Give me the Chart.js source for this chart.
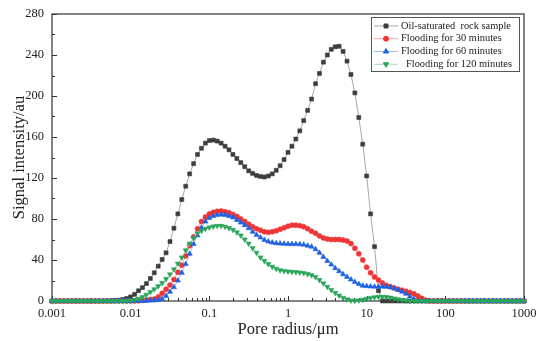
<!DOCTYPE html>
<html><head><meta charset="utf-8">
<script src="https://cdn.jsdelivr.net/npm/chart.js@4"></script>
<style>html,body{margin:0;padding:0;background:#fff;overflow:hidden}</style>
</head><body>
<canvas id="c" width="538" height="341"></canvas>
<script>
// Pore radius grid (µm)
const poreRadius = [
0.001,0.001122,0.001259,0.001413,0.001585,0.001778,0.001995,0.002239,0.002512,0.002818,0.003162,0.003548,0.003981,0.004467,0.005012,0.005623,0.006310,0.007079,0.007943,0.008913,
0.01,0.01122,0.01259,0.01413,0.01585,0.01778,0.01995,0.02239,0.02512,0.02818,0.03162,0.03548,0.03981,0.04467,0.05012,0.05623,0.06310,0.07079,0.07943,0.08913,
0.1,0.1122,0.1259,0.1413,0.1585,0.1778,0.1995,0.2239,0.2512,0.2818,0.3162,0.3548,0.3981,0.4467,0.5012,0.5623,0.6310,0.7079,0.7943,0.8913,
1,1.122,1.259,1.413,1.585,1.778,1.995,2.239,2.512,2.818,3.162,3.548,3.981,4.467,5.012,5.623,6.310,7.079,7.943,8.913,
10,11.22,12.59,14.13,15.85,17.78,19.95,22.39,25.12,28.18,31.62,35.48,39.81,44.67,50.12,56.23,63.10,70.79,79.43,89.13,
100,112.2,125.9,141.3,158.5,177.8,199.5,223.9,251.2,281.8,316.2,354.8,398.1,446.7,501.2,562.3,631.0,707.9,794.3,891.3,
1000];

const oilSaturated = [
0,0,0,0,0,0,0,0,0,0,0,0,0,0,0.1,0.2,0.4,0.8,1.5,2.5,
4,6.5,10,13,17,22,27.5,34,40.5,47,58,71,85,99,112,124,134,143,149,154,
156.5,157,156,154,151,147.5,143,139,135,131,127,124.5,122.5,121.5,121,122,124,127.5,132,138,
145,151,158,166,176,186,197,212,222,233,240,245.5,248,248.5,243.5,234,221,203,179,153,
122,85,53,10,0,0,0,0,0,0,0,0,0,0,0,0,0,0,0,0,
0,0,0,0,0,0,0,0,0,0,0,0,0,0,0,0,0,0,0,0,
0];

const flooding30 = [
0,0,0,0,0,0,0,0,0,0,0,0,0,0,0,0,0,0,0,0,
0,0,0.2,0.5,1,1.5,2,4,7.5,11.5,15.6,21,28,35,44,54,62.5,70.5,77.5,82,
85,86.5,87.5,87.8,87,86,84.5,82.5,80,77.5,75,72.5,70.5,69,67.5,67,67.5,68.5,70,71.5,
73,74,74,73.5,72.5,70.5,68,66,63.5,61.5,60.5,60,60,60,59.5,58.5,56,51.5,46,40,
33,27.5,23.5,20.5,17.5,15.2,14,12.7,11.5,10.5,9.5,8.3,7,5,2.6,0.8,0,0,0,0,
0,0,0,0,0,0,0,0,0,0,0,0,0,0,0,0,0,0,0,0,
0];

const flooding60 = [
0,0,0,0,0,0,0,0,0,0,0,0,0,0,0,0,0,0,0,0,
0,0,0,0,0.2,0.4,0.6,0.9,2,5,9,13.5,20,27.5,36,46,55.5,64,71.5,77.5,
81,83,84,84.3,84,83,81.5,79,76.5,74,71,67.5,64.5,62,59.5,58,57,56.3,56,55.8,
55.5,55.5,55.5,55.3,55,54,53,50.5,47,43,39,35.5,32,29,26,23.5,21,18.5,16.5,15,
14.5,14.2,14,14,14,14,13.5,12.3,10.8,9,7,4.5,2,0.3,0,0,0,0,0,0,
0,0,0,0,0,0,0,0,0,0,0,0,0,0,0,0,0,0,0,0,
0];

const flooding120 = [
0,0,0,0,0,0,0,0,0,0,0,0,0,0,0,0,0,0,0,0,
0.5,1.2,2.2,3.8,6.2,8.8,11.5,14.5,17.5,21.5,26,31,36.5,42.5,49.5,56,61.5,66,68.5,70.5,
71.8,72.8,73.3,73.3,72.5,71.2,69.5,67,64,60,56,51.5,47,42.5,39,36,33.5,31.5,30,29.2,
28.8,28.5,28.2,27.8,27.2,26.3,25.2,23.3,20.5,17.2,13.8,10.8,8,5.3,3.2,1.6,0.5,0.3,0.6,1.3,
2.2,3,3.7,4.1,4.2,3.9,3.3,2.5,1.6,0.9,0.4,0.1,0,0,0,0,0,0,0,0,
0,0,0,0,0,0,0,0,0,0,0,0,0,0,0,0,0,0,0,0,
0];

const seriesNames = ['Oil-saturated  rock sample','Flooding for 30 minutes','Flooding for 60 minutes','Flooding for 120 minutes'];
const xTickValues = [0.001,0.01,0.1,1,10,100,1000];
const xTickLabels = ['0.001','0.01','0.1','1','10','100','1000'];
const yTickValues = [0,40,80,120,160,200,240,280];
const yTickLabels = ['0','40','80','120','160','200','240','280'];
const xTitle = 'Pore radius/\u03bcm';
const yTitle = 'Signal intensity/au';

const serif = "'Liberation Serif','Times New Roman',serif";
const seriesValues = [oilSaturated, flooding30, flooding60, flooding120];
const styles = [
  {color:'#3d3d3d', line:'#a8a8a8', point:'rect', rot:0, r:2.8, order:3},
  {color:'#ef3535', line:'#f5a3a3', point:'circle', rot:0, r:2.5, order:2},
  {color:'#1e62e2', line:'#9cbaf2', point:'triangle', rot:0, r:3.0, order:1},
  {color:'#28a658', line:'#a3dab5', point:'triangle', rot:180, r:3.0, order:0}
];

const datasets = seriesValues.map((vals, s) => ({
  label: seriesNames[s],
  data: poreRadius.map((x, k) => ({x: x, y: vals[k]})),
  borderColor: styles[s].line,
  borderWidth: 1,
  pointStyle: styles[s].point,
  pointRotation: styles[s].rot,
  pointRadius: styles[s].r,
  pointBackgroundColor: styles[s].color,
  pointBorderColor: styles[s].color,
  pointBorderWidth: 0.6,
  tension: 0,
  order: styles[s].order,
  clip: false
}));

const frameTicks = {
  id: 'frameTicks',
  beforeDatasetsDraw(chart) {
    const {ctx, chartArea: a, scales: {x, y}} = chart;
    ctx.save();
    ctx.strokeStyle = '#333';
    ctx.lineWidth = 1.2;
    ctx.strokeRect(a.left, a.top, a.right - a.left, a.bottom - a.top);
    ctx.lineWidth = 1;
    ctx.beginPath();
    yTickValues.forEach((v, i) => {
      const py = Math.round(y.getPixelForValue(v)) + 0.5;
      ctx.moveTo(a.left, py); ctx.lineTo(a.left + 5, py);
      if (i < yTickValues.length - 1) {
        const pm = Math.round(y.getPixelForValue((v + yTickValues[i + 1]) / 2)) + 0.5;
        ctx.moveTo(a.left, pm); ctx.lineTo(a.left + 3, pm);
      }
    });
    xTickValues.forEach((v, i) => {
      const px = Math.round(x.getPixelForValue(v)) + 0.5;
      ctx.moveTo(px, a.bottom); ctx.lineTo(px, a.bottom - 5);
      if (i < xTickValues.length - 1) {
        for (let m = 2; m <= 9; m++) {
          const pm = Math.round(x.getPixelForValue(v * m)) + 0.5;
          ctx.moveTo(pm, a.bottom); ctx.lineTo(pm, a.bottom - 3);
        }
      }
    });
    ctx.stroke();
    ctx.restore();
  },
  afterDraw(chart) {
    const {ctx} = chart;
    const lx = 371, ly = 17, lw = 148, lh = 54;
    ctx.save();
    ctx.fillStyle = '#fff';
    ctx.fillRect(lx, ly, lw, lh);
    ctx.strokeStyle = '#555';
    ctx.lineWidth = 1;
    ctx.strokeRect(lx + 0.5, ly + 0.5, lw, lh);
    ctx.font = '10.4px ' + serif;
    ctx.textBaseline = 'middle';
    ctx.textAlign = 'left';
    seriesNames.forEach((name, k) => {
      const st = styles[k];
      const yy = ly + 9 + k * 12.75;
      ctx.strokeStyle = st.line;
      ctx.lineWidth = 1;
      ctx.beginPath();
      ctx.moveTo(lx + 3, yy); ctx.lineTo(lx + 27, yy);
      ctx.stroke();
      ctx.fillStyle = st.color;
      ctx.strokeStyle = st.color;
      Chart.helpers.drawPoint(ctx, {pointStyle: st.point, rotation: st.rot, radius: st.r, borderWidth: 0.6}, lx + 15, yy);
      ctx.fillStyle = '#222';
      ctx.fillText(name, lx + (k === 3 ? 35 : 30), yy);
    });
    ctx.restore();
  }
};

new Chart(document.getElementById('c'), {
  type: 'line',
  data: {datasets},
  options: {
    responsive: false,
    animation: false,
    devicePixelRatio: 1,
    layout: {padding: {top: 14, right: 14, left: 0, bottom: 0}},
    plugins: {legend: {display: false}, tooltip: {enabled: false}},
    scales: {
      x: {
        type: 'logarithmic',
        min: 0.001, max: 1000,
        afterBuildTicks: s => { s.ticks = xTickValues.map(v => ({value: v})); },
        afterFit: s => { s.height = 40; s.paddingLeft = 0; s.paddingRight = 0; },
        ticks: {
          callback: (v, i) => xTickLabels[i],
          autoSkip: false, maxRotation: 0, minRotation: 0,
          padding: 5.5, color: '#222',
          font: {family: serif, size: 12.5}
        },
        grid: {display: false, drawTicks: false},
        border: {display: false},
        title: {display: true, text: xTitle, color: '#222', font: {family: serif, size: 16.5}, padding: {top: 0, bottom: 1.1}}
      },
      y: {
        type: 'linear',
        min: 0, max: 280,
        afterBuildTicks: s => { s.ticks = yTickValues.map(v => ({value: v})); },
        afterFit: s => { s.width = 52; s.paddingTop = 0; s.paddingBottom = 0; },
        ticks: {
          callback: (v, i) => yTickLabels[i],
          padding: 8, color: '#222',
          font: {family: serif, size: 12.5}
        },
        grid: {display: false, drawTicks: false},
        border: {display: false},
        title: {display: true, text: yTitle, color: '#222', font: {family: serif, size: 16.5}, padding: {top: 9.6, bottom: 0}}
      }
    }
  },
  plugins: [frameTicks]
});
</script>
</body></html>
